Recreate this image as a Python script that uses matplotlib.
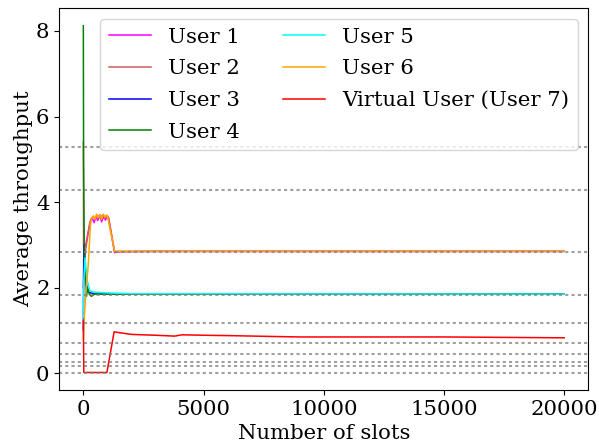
import matplotlib
matplotlib.use("Agg")
import matplotlib.pyplot as plt

plt.rcParams['font.family'] = 'DejaVu Serif'

# running average throughput per user (breakpoints)
x_u1 = [0, 40, 100, 200, 300, 380, 450, 520, 600, 680, 760, 840, 920, 1000, 1050, 1300, 1500, 3000, 20000]
y_u1 = [2.0, 2.9, 3.0, 3.3, 3.55, 3.62, 3.52, 3.66, 3.57, 3.7, 3.54, 3.66, 3.58, 3.68, 3.62, 2.82, 2.84, 2.85, 2.85]

x_u2 = [0, 10, 40, 100, 180, 260, 330, 420, 500, 600, 700, 800, 900, 1000, 1050, 1300, 1500, 20000]
y_u2 = [5.4, 3.0, 2.6, 2.9, 3.2, 3.5, 3.62, 3.66, 3.6, 3.68, 3.63, 3.7, 3.62, 3.66, 3.64, 2.84, 2.85, 2.85]

x_u3 = [0, 20, 60, 120, 200, 300, 500, 1000, 20000]
y_u3 = [1.0, 3.0, 2.7, 2.1, 1.9, 1.88, 1.86, 1.85, 1.85]

x_u4 = [0, 10, 40, 80, 130, 180, 250, 330, 500, 1000, 2000, 20000]
y_u4 = [8.12, 5.0, 2.7, 2.3, 1.8, 2.0, 1.85, 1.8, 1.86, 1.85, 1.85, 1.85]

x_u5 = [0, 20, 70, 150, 270, 400, 1000, 2000, 20000]
y_u5 = [1.3, 2.2, 2.7, 2.2, 1.93, 1.9, 1.88, 1.86, 1.85]

x_u6 = [0, 50, 120, 200, 300, 350, 420, 480, 550, 620, 700, 760, 830, 900, 960, 1000, 1300, 1500, 20000]
y_u6 = [0.8, 1.4, 2.0, 2.5, 3.5, 3.62, 3.68, 3.6, 3.72, 3.64, 3.7, 3.6, 3.72, 3.65, 3.7, 3.68, 2.85, 2.85, 2.85]

x_u7 = [0, 20, 980, 1280, 1500, 2000, 3000, 3800, 4100, 5000, 6200, 8000, 9000, 12000, 15000, 20000]
y_u7 = [1.22, 0.02, 0.02, 0.97, 0.95, 0.91, 0.89, 0.87, 0.90, 0.89, 0.88, 0.86, 0.85, 0.85, 0.85, 0.83]

labels = ['User 1', 'User 2', 'User 3', 'User 4', 'User 5', 'User 6', 'Virtual User (User 7)']
colors = ['magenta', 'indianred', 'blue', 'green', 'cyan', 'orange', 'red']

# reference levels (dotted)
ref_levels = [5.29, 4.28, 2.84, 1.83, 1.17, 0.72, 0.45, 0.27, 0.17, 0.0]
y_ticks = [0, 2, 4, 6, 8]

xs = [x_u1, x_u2, x_u3, x_u4, x_u5, x_u6, x_u7]
ys = [y_u1, y_u2, y_u3, y_u4, y_u5, y_u6, y_u7]

fs = 15.3

fig, ax = plt.subplots(figsize=(5.99, 4.45), dpi=100)
fig.subplots_adjust(left=0.099, right=0.982, top=0.981, bottom=0.124)

for x, y, lab, c in zip(xs, ys, labels, colors):
    ax.plot(x, y, color=c, label=lab, linewidth=1.1)

for lv in ref_levels:
    ax.axhline(lv, color='gray', linestyle=(0, (1.5, 1.5)), linewidth=1.5, alpha=0.75)

ax.set_yticks(y_ticks)
ax.set_xlabel('Number of slots', fontsize=fs, labelpad=4)
ax.set_ylabel('Average throughput', fontsize=fs, labelpad=2)
ax.tick_params(labelsize=fs)
ax.legend(loc='upper right', ncol=2, fontsize=fs, labelspacing=0.6)

fig.savefig('out.png')
